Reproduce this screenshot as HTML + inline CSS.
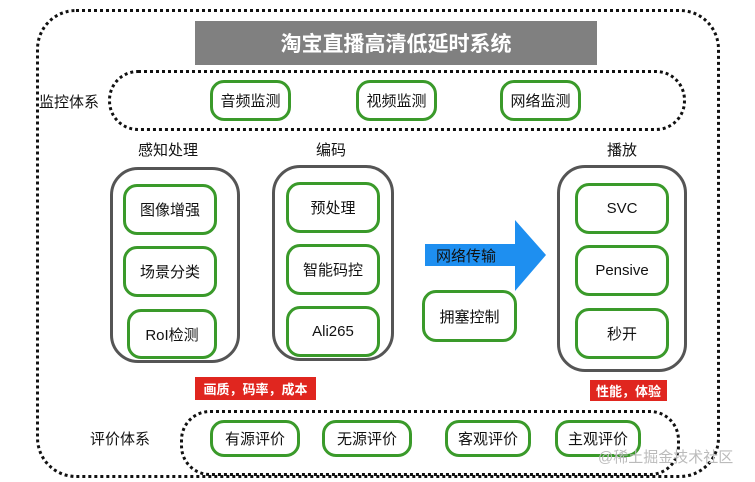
<!DOCTYPE html>
<html><head><meta charset="utf-8"><style>
body{margin:0;width:755px;height:482px;background:#fff;position:relative;overflow:hidden;font-family:"Liberation Sans","Noto Sans CJK SC",sans-serif;}
.a{position:absolute;box-sizing:border-box;}
.dot{border:3.5px dotted #111;}
.g{border:3px solid #3a9a2a;border-radius:14px;display:flex;align-items:center;justify-content:center;font-size:15px;color:#111;background:#fff;}
.gr{border:3px solid #555;border-radius:28px;}
.t{font-size:15px;color:#111;}
.red{background:#e0261f;color:#fff;font-weight:bold;font-size:13px;display:flex;align-items:center;justify-content:center;}
</style></head><body>
<div class="a dot" style="left:36px;top:9px;width:684px;height:469px;border-radius:40px;"></div>
<div class="a" style="left:195px;top:21px;width:402px;height:44px;background:#808080;color:#fff;font-weight:bold;font-size:21px;display:flex;align-items:center;justify-content:center;">淘宝直播高清低延时系统</div>
<div class="a dot" style="left:108px;top:70px;width:578px;height:61px;border-radius:30px;"></div>
<div class="a t" style="left:39px;top:91px;">监控体系</div>
<div class="a g" style="left:210px;top:80px;width:81px;height:41px;">音频监测</div>
<div class="a g" style="left:356px;top:80px;width:81px;height:41px;">视频监测</div>
<div class="a g" style="left:500px;top:80px;width:81px;height:41px;">网络监测</div>
<div class="a t" style="left:138px;top:139px;">感知处理</div>
<div class="a t" style="left:316px;top:139px;">编码</div>
<div class="a t" style="left:607px;top:139px;">播放</div>
<div class="a gr" style="left:110px;top:167px;width:130px;height:196px;"></div>
<div class="a gr" style="left:272px;top:165px;width:122px;height:196px;"></div>
<div class="a gr" style="left:557px;top:165px;width:130px;height:207px;"></div>
<div class="a g" style="left:123px;top:184px;width:94px;height:51px;">图像增强</div>
<div class="a g" style="left:123px;top:246px;width:94px;height:51px;">场景分类</div>
<div class="a g" style="left:127px;top:309px;width:90px;height:50px;">RoI检测</div>
<div class="a g" style="left:286px;top:182px;width:94px;height:51px;">预处理</div>
<div class="a g" style="left:286px;top:244px;width:94px;height:51px;">智能码控</div>
<div class="a g" style="left:286px;top:306px;width:94px;height:51px;">Ali265</div>
<div class="a g" style="left:575px;top:183px;width:94px;height:51px;">SVC</div>
<div class="a g" style="left:575px;top:245px;width:94px;height:51px;">Pensive</div>
<div class="a g" style="left:575px;top:308px;width:94px;height:51px;">秒开</div>
<svg class="a" style="left:0;top:0" width="755" height="482"><polygon points="425,244 515,244 515,220 546,255 515,291 515,266 425,266" fill="#1e8ff0"/></svg>
<div class="a t" style="left:436px;top:245px;">网络传输</div>
<div class="a g" style="left:422px;top:290px;width:95px;height:52px;">拥塞控制</div>
<div class="a red" style="left:195px;top:377px;width:121px;height:23px;">画质，码率，成本</div>
<div class="a red" style="left:590px;top:380px;width:77px;height:21px;">性能，体验</div>
<div class="a dot" style="left:180px;top:410px;width:500px;height:66px;border-radius:30px;"></div>
<div class="a t" style="left:90px;top:428px;">评价体系</div>
<div class="a g" style="left:210px;top:420px;width:90px;height:37px;">有源评价</div>
<div class="a g" style="left:322px;top:420px;width:90px;height:37px;">无源评价</div>
<div class="a g" style="left:445px;top:420px;width:86px;height:37px;">客观评价</div>
<div class="a g" style="left:555px;top:420px;width:86px;height:37px;">主观评价</div>
<div class="a" style="left:598px;top:446px;font-size:15px;color:#bbb;">@稀土掘金技术社区</div>
</body></html>
